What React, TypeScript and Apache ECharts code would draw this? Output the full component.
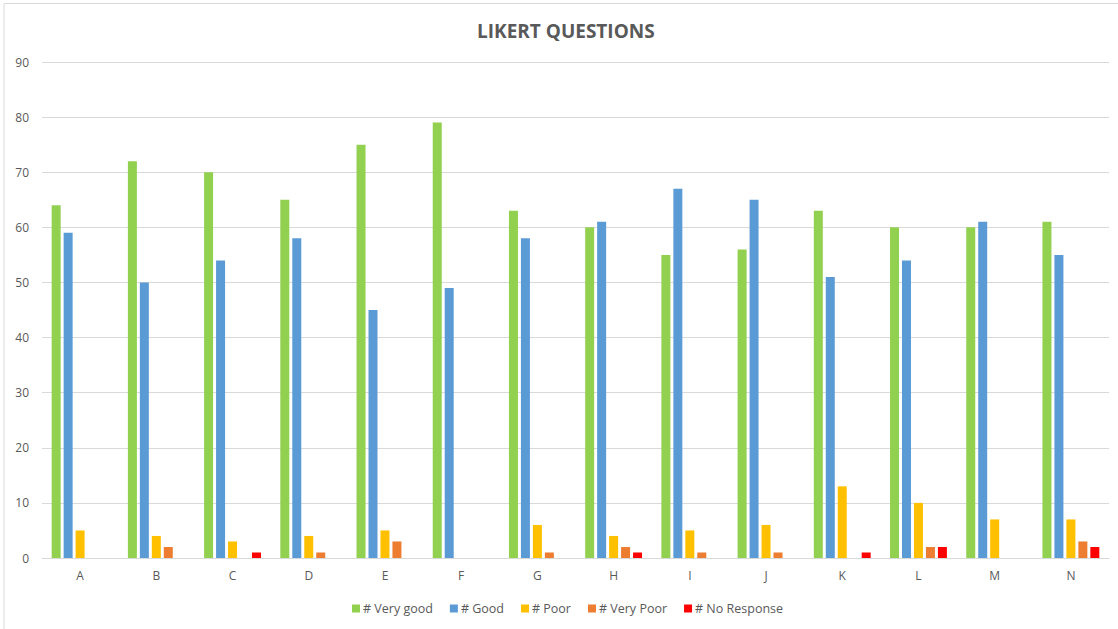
import React, { useEffect, useRef } from "react";
import * as echarts from "echarts";

const categories = ["A", "B", "C", "D", "E", "F", "G", "H", "I", "J", "K", "L", "M", "N"];
const veryGood = [64, 72, 70, 65, 75, 79, 63, 60, 55, 56, 63, 60, 60, 61];
const good = [59, 50, 54, 58, 45, 49, 58, 61, 67, 65, 51, 54, 61, 55];
const poor = [5, 4, 3, 4, 5, 0, 6, 4, 5, 6, 13, 10, 7, 7];
const veryPoor = [0, 2, 0, 1, 3, 0, 1, 2, 1, 1, 0, 2, 0, 3];
const noResponse = [0, 0, 1, 0, 0, 0, 0, 1, 0, 0, 1, 2, 0, 2];

const seriesNames = ["# Very good", "# Good", "# Poor", "# Very Poor", "# No Response"];
const seriesColors = ["#92d050", "#5b9bd5", "#ffc000", "#ed7d31", "#ff0000"];
const seriesData = [veryGood, good, poor, veryPoor, noResponse];

export default function App() {
  const ref = useRef<HTMLDivElement>(null);
  useEffect(() => {
    document.body.style.margin = "0";
    const chart = echarts.init(ref.current!, null, { renderer: "svg" });
    const font = "'Open Sans', 'Liberation Sans', sans-serif";
    chart.setOption({
      animation: false,
      backgroundColor: "#ffffff",
      title: {
        text: "LIKERT QUESTIONS",
        left: 472,
        top: 16,
        textStyle: { fontFamily: font, fontSize: 19, fontWeight: "bold", color: "#595959" },
      },
      legend: {
        bottom: 9,
        left: 347,
        itemWidth: 8,
        itemHeight: 8,
        itemGap: 17,
        icon: "rect",
        textStyle: { fontFamily: font, fontSize: 12.5, color: "#595959", padding: [0, 0, 0, -2] },
        data: seriesNames,
      },
      grid: { left: 42, right: 9, top: 62, bottom: 71, containLabel: false },
      xAxis: {
        type: "category",
        data: categories,
        axisLine: { lineStyle: { color: "#d9d9d9", width: 1 } },
        axisTick: { show: false },
        axisLabel: { fontFamily: font, fontSize: 12, color: "#595959", margin: 11 },
      },
      yAxis: {
        type: "value",
        min: 0,
        max: 90,
        interval: 10,
        axisLine: { show: false },
        axisTick: { show: false },
        splitLine: { lineStyle: { color: "#d9d9d9", width: 1 } },
        axisLabel: { fontFamily: font, fontSize: 12, color: "#595959", margin: 13 },
      },
      graphic: [
        {
          type: "polyline",
          shape: { points: [[4, 640], [4, 3.5], [1130, 3.5]] },
          style: { stroke: "#d9d9d9", fill: null, lineWidth: 1 },
          silent: true,
        },
      ],
      series: seriesNames.map((name, i) => ({
        name,
        type: "bar",
        data: seriesData[i],
        barWidth: 9,
        barGap: "33%",
        itemStyle: { color: seriesColors[i] },
      })),
    });
    return () => chart.dispose();
  }, []);
  return <div ref={ref} style={{ width: 1118, height: 629 }} />;
}
